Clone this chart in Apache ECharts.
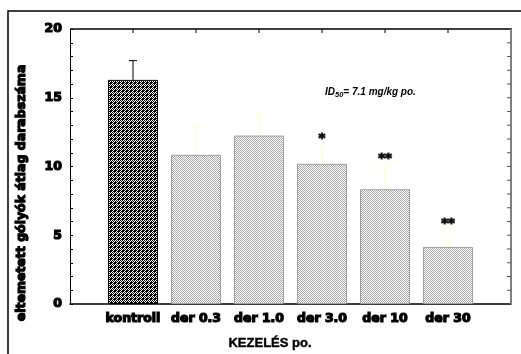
<!DOCTYPE html>
<html><head><meta charset="utf-8">
<script src="https://cdn.jsdelivr.net/npm/echarts@6/dist/echarts.min.js"></script>
<style>html,body{margin:0;padding:0;background:#fff}#c{width:521px;height:354px}</style>
</head><body><div id="c"></div>
<script>
const categories = ['kontroll', 'der 0.3', 'der 1.0', 'der 3.0', 'der 10', 'der 30'];
const means = [16.3, 10.85, 12.25, 10.2, 8.35, 4.15];
const errTop = [17.7, 13.0, 13.8, 11.45, 10.0, 5.3];
const stars = ['', '', '', '*', '**', '**'];
const yLabelValues = [0, 5, 10, 15, 20];
const yTickValues = [1, 2, 3, 4, 5, 6, 7, 8, 9, 10, 11, 12, 13, 14, 15, 16, 17, 18, 19];
const yTitle = 'eltemetett gólyók átlag darabszáma';
const xTitle = 'KEZELÉS po.';
const X_MAX = categories.length + 1;
const Y_MAX = 20;

function makePattern(rows, colors) {
  const c = document.createElement('canvas');
  c.width = rows[0].length; c.height = rows.length;
  const ctx = c.getContext('2d');
  rows.forEach((r, y) => { for (let x = 0; x < r.length; x++) { ctx.fillStyle = colors[r[x]]; ctx.fillRect(x, y, 1, 1); } });
  return { image: c, repeat: 'repeat' };
}
const darkPat = makePattern(['BWBW', 'WBWB', 'BWBB', 'WBBB'], { B: '#000', W: '#fff' });
const lightPat = makePattern(['GW', 'WG'], { G: '#a8a8a8', W: '#ffffff' });

const chart = echarts.init(document.getElementById('c'), null, { renderer: 'canvas' });
const tickFont = { fontFamily: 'DejaVu Sans', fontWeight: 'bold', fontSize: 12.5, color: '#000', textBorderColor: '#000', textBorderWidth: 1.2 };

chart.setOption({
  animation: false,
  backgroundColor: '#fff',
  grid: { left: 70, top: 29, right: 10, bottom: 50, containLabel: false, show: false },
  xAxis: {
    type: 'value', min: 0, max: X_MAX, interval: 1,
    splitLine: { show: false },
    axisLine: { show: true, onZero: false, lineStyle: { color: '#000', width: 1.5 } },
    axisTick: { show: true, inside: true, length: 4, lineStyle: { color: '#000', width: 1 } },
    axisLabel: Object.assign({ margin: 8, formatter: v => categories[v - 1] || '' }, tickFont)
  },
  yAxis: {
    type: 'value', min: 0, max: Y_MAX, interval: 1,
    splitLine: { show: false },
    axisLine: { show: true, onZero: false, lineStyle: { color: '#000', width: 1 } },
    axisTick: { show: true, inside: true, length: 3, lineStyle: { color: '#000', width: 1 } },
    axisLabel: Object.assign({ margin: 8, formatter: v => yLabelValues.includes(v) ? String(v) : '' }, tickFont)
  },
  series: [
    {
      type: 'bar', barWidth: 50,
      data: means.map((v, i) => ({
        value: [i + 1, v],
        itemStyle: i === 0
          ? { color: darkPat, borderColor: '#000', borderWidth: 1 }
          : { color: lightPat, borderColor: '#a0a0a0', borderWidth: 1 }
      }))
    },
    {
      type: 'custom',
      encode: { x: 0, y: [1, 2] },
      data: errTop.map((t, i) => [i + 1, means[i], t]),
      renderItem: function (params, api) {
        const x = api.value(0);
        const p0 = api.coord([x, api.value(1)]);
        const p1 = api.coord([x, api.value(2)]);
        const col = params.dataIndex === 0 ? '#000' : '#ffffc0';
        return {
          type: 'group', children: [
            { type: 'line', shape: { x1: p0[0], y1: p0[1], x2: p1[0], y2: p1[1] }, style: { stroke: col, lineWidth: 1 } },
            { type: 'line', shape: { x1: p1[0] - 4, y1: p1[1], x2: p1[0] + 4, y2: p1[1] }, style: { stroke: col, lineWidth: 1 } }
          ]
        };
      }
    },
    {
      // top and right frame of the plot with inside ticks
      type: 'custom', silent: true, clip: false,
      encode: { x: 0, y: 1 },
      data: [[X_MAX, Y_MAX]],
      renderItem: function (params, api) {
        const tl = api.coord([0, Y_MAX]);
        const tr = api.coord([X_MAX, Y_MAX]);
        const br = api.coord([X_MAX, 0]);
        const children = [
          { type: 'line', shape: { x1: tl[0], y1: tl[1], x2: tr[0] + 1, y2: tr[1] }, style: { stroke: '#000', lineWidth: 1.5 } },
          { type: 'line', shape: { x1: br[0], y1: tr[1], x2: br[0], y2: br[1] }, style: { stroke: '#808080', lineWidth: 2 } }
        ];
        categories.forEach((c, i) => {
          const p = api.coord([i + 1, Y_MAX]);
          children.push({ type: 'line', shape: { x1: p[0], y1: p[1], x2: p[0], y2: p[1] + 4 }, style: { stroke: '#000', lineWidth: 1 } });
        });
        yTickValues.forEach(v => {
          const p = api.coord([X_MAX, v]);
          children.push({ type: 'line', shape: { x1: p[0], y1: p[1], x2: p[0] - 4, y2: p[1] }, style: { stroke: '#555', lineWidth: 1 } });
        });
        return { type: 'group', children };
      }
    },
    {
      type: 'scatter', symbolSize: 0,
      data: errTop.map((t, i) => [i + 1, t]),
      label: {
        show: true, position: 'top', distance: 1,
        formatter: p => stars[p.dataIndex],
        fontFamily: 'DejaVu Sans', fontWeight: 'bold', fontSize: 13, color: '#000',
        textBorderColor: '#000', textBorderWidth: 1.2
      }
    }
  ],
  graphic: [
    { type: 'rect', shape: { x: 8, y: 11, width: 700, height: 500 }, style: { fill: 'none', stroke: '#000', lineWidth: 1.5 }, silent: true },
    {
      type: 'text', x: 22, y: 193, rotation: Math.PI / 2,
      style: { text: yTitle, fontFamily: 'DejaVu Sans', fontWeight: 'bold', fontSize: 12.5, fill: '#000', stroke: '#000', lineWidth: 1.2, align: 'center', verticalAlign: 'middle' }
    },
    {
      type: 'text', x: 270, y: 343,
      style: { text: xTitle, fontFamily: 'Liberation Sans', fontWeight: 'bold', fontSize: 13, fill: '#000', stroke: '#000', lineWidth: 0.4, align: 'center', verticalAlign: 'middle' }
    },
    {
      type: 'text', x: 325, y: 92,
      style: {
        text: '{a|ID}{s|50}{a|= 7.1 mg/kg po.}',
        verticalAlign: 'middle',
        rich: {
          a: { fontFamily: 'Liberation Sans', fontStyle: 'italic', fontWeight: 'bold', fontSize: 10, fill: '#000' },
          s: { fontFamily: 'Liberation Sans', fontStyle: 'italic', fontWeight: 'bold', fontSize: 7.5, fill: '#000', padding: [6, 0, 0, 0] }
        }
      }
    }
  ]
});
</script>
</body></html>
